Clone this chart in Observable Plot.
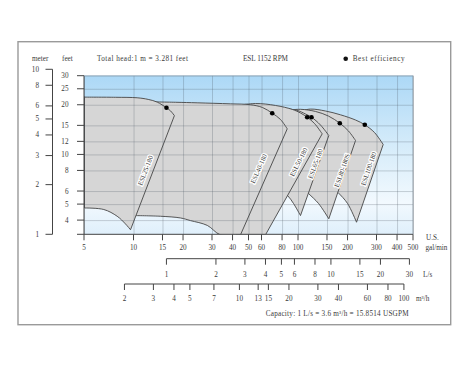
<!DOCTYPE html>
<html><head><meta charset="utf-8">
<script src="https://cdn.jsdelivr.net/npm/d3@7"></script>
<script src="https://cdn.jsdelivr.net/npm/@observablehq/plot@0.6"></script>
<style>html,body{margin:0;padding:0;background:#fff}svg{display:block}</style>
</head><body><div id="chart"></div>
<script>
// ---------- data ----------
const pumpNames = ["ESL100-180","ESL80-180S","ESL65-180","ESL50-180","ESL40-180","ESL25-180"];
// coverage outline of each pump, [US gpm, feet]
const esl100 = [[100.0,18.34],[118.3,18.96],[145.9,18.46],[180.0,17.5],[222.1,16.28],[252.9,15.23],[289.7,13.67],[327.1,11.57],[225.2,3.91],[198.6,5.08],[173.8,5.92],[156.4,6.53]];
const esl80  = [[83.4,18.6],[102.8,18.9],[126.9,18.34],[152.1,17.2],[178.2,15.57],[201.3,13.96],[222.1,12.23],[152.8,4.10],[132.3,5.08],[115.0,5.84],[102.8,6.53]];
const esl65  = [[63.0,19.5],[97.2,18.65],[110.3,17.7],[119.9,16.93],[136.0,15.18],[152.8,13.11],[102.8,4.29],[93.2,5.08],[85.7,5.68],[77.7,6.09]];
const esl50  = [[38.6,19.66],[54.8,20.49],[72.5,19.94],[91.9,18.86],[102.8,17.95],[112.9,16.93],[125.1,15.5],[139.3,13.42],[63.0,3.281],[42.0,3.281]];
const esl40  = [[11.74,21.0],[17.9,20.85],[24.2,20.69],[38.6,20.4],[51.0,20.15],[60.4,19.38],[69.2,17.9],[77.7,16.4],[85.4,14.39],[44.4,3.281],[33.5,3.281],[27.9,3.74],[22.05,4.0],[19.17,4.15],[14.5,4.25],[10.1,4.29]];
const esl25  = [[5,22.4],[7.7,22.35],[10.45,22.2],[12.2,21.7],[13.83,20.9],[15.75,19.3],[16.66,18.5],[17.6,17.3],[9.52,3.52],[8.87,3.82],[7.9,4.25],[6.55,4.67],[5,4.77]];
const outlines = [esl100, esl80, esl65, esl50, esl40, esl25];

const bestQ = [252.9,178.2,119.9,112.9,69.2,15.75];
const bestH = [15.23,15.57,16.93,16.93,17.9,19.3];
const labelQ = [267.5,184.4,126.9,100.4,57.4,11.74];
const labelH = [8.24,8.05,8.84,9.04,8.24,8.05];

const gpmTicks = [5,10,15,20,30,40,50,60,80,100,150,200,300,400,500];
const ftTicks = [30,25,20,15,12,10,8,6,5,4];
const meterTicks = [10,8,6,5,4,3,2,1];
const lpsTicks = [1,2,3,4,5,6,8,10,15,20,30];
const m3hTicks = [2,3,4,5,7,10,13,15,20,30,40,60,80,100];
const FT_PER_M = 3.281, GPM_PER_LPS = 15.8514, GPM_PER_M3H = 15.8514/3.6;
const xDomain = [5,500], yDomain = [1*FT_PER_M, 30];

// ---------- styles ----------
const FONT = "'Liberation Serif','Times New Roman',serif";
const FS = 7.2;
const labelAngle = [-71,-71,-70,-63,-66,-69];
const TXT = "#3a3a3a";

const rows = outlines.flatMap((pts,i)=>pts.map(([q,h])=>({pump:pumpNames[i], q, h})));
const best = bestQ.map((q,i)=>({q, h:bestH[i]}));
const labels = pumpNames.map((n,i)=>({n, q:labelQ[i], h:labelH[i], a:labelAngle[i]}));

// closed curve: smooth (Catmull-Rom) between sharp corners
function smoothCornered(context){
  let pts = [];
  const proxy = {
    moveTo(){}, closePath(){},
    lineTo(x,y){ context.lineTo(x,y); },
    bezierCurveTo(a,b,c,d,e,f){ context.bezierCurveTo(a,b,c,d,e,f); }
  };
  function run(seg){
    if (seg.length < 3) { context.lineTo(seg[seg.length-1][0], seg[seg.length-1][1]); return; }
    const cr = d3.curveCatmullRom.alpha(0.5)(proxy);
    cr.lineStart(); seg.forEach(p=>cr.point(p[0],p[1])); cr.lineEnd();
  }
  return {
    areaStart(){}, areaEnd(){},
    lineStart(){ pts = []; },
    point(x,y){ pts.push([+x,+y]); },
    lineEnd(){
      const n = pts.length; if (!n) return;
      const corner = pts.map((p,i)=>{
        const a = pts[(i-1+n)%n], c = pts[(i+1)%n];
        const v1=[p[0]-a[0],p[1]-a[1]], v2=[c[0]-p[0],c[1]-p[1]];
        return Math.abs(Math.atan2(v1[0]*v2[1]-v1[1]*v2[0], v1[0]*v2[0]+v1[1]*v2[1])) > 0.75;
      });
      let s = corner.indexOf(true); if (s < 0) s = 0;
      const seq = [...pts.slice(s), ...pts.slice(0,s), pts[s]];
      const cs = [...corner.slice(s), ...corner.slice(0,s), true];
      context.moveTo(seq[0][0], seq[0][1]);
      let seg = [seq[0]];
      for (let i=1;i<seq.length;i++){ seg.push(seq[i]); if (cs[i]) { run(seg); seg = [seq[i]]; } }
      context.closePath();
    }
  };
}

function background(index, scales, values, dims){
  const {width,height,marginLeft:ml,marginRight:mr,marginTop:mt,marginBottom:mb} = dims;
  const g = d3.create("svg:g");
  const grad = g.append("defs").append("linearGradient").attr("id","bgGrad").attr("x1",0).attr("y1",0).attr("x2",0).attr("y2",1);
  [[0,"#acd8f6"],[0.45,"#d6ecfa"],[0.8,"#f2f9fe"],[1,"#dfeffb"]].forEach(([o,c])=>grad.append("stop").attr("offset",o).attr("stop-color",c));
  g.append("rect").attr("x",ml-66).attr("y",mt-34).attr("width",width-ml-mr+103.7).attr("height",height-mt-mb+124.4)
    .attr("fill","#fff").attr("stroke","#9a9a9a").attr("stroke-width",1.4);
  g.append("rect").attr("x",ml).attr("y",mt).attr("width",width-ml-mr).attr("height",height-mt-mb).attr("fill","url(#bgGrad)");
  return g.node();
}

function axes(index, scales, values, dims){
  const x = scales.x, y = scales.y;
  const {width,height,marginLeft:ml,marginRight:mr,marginTop:mt,marginBottom:mb} = dims;
  const r = width-mr, b = height-mb;
  const g = d3.create("svg:g").attr("font-family",FONT).attr("font-size",FS).attr("fill",TXT);
  const ln = (x1,y1,x2,y2,s="#444",w=1)=>g.append("line").attr("x1",x1).attr("y1",y1).attr("x2",x2).attr("y2",y2).attr("stroke",s).attr("stroke-width",w);
  const tx = (px,py,s,anchor="middle")=>g.append("text").attr("x",px).attr("y",py).attr("dy","0.35em").attr("text-anchor",anchor).text(s);
  // plot edges
  ln(ml,mt,ml,b,"#444");
  ln(ml-7,b,r,b,"#444");
  ln(r,mt,r,b,"#7f8c96",0.8);
  ln(ml,mt,r,mt,"#9fb3c2",0.8);
  // gpm axis
  for(const v of gpmTicks){ ln(x(v),b,x(v),b+6); tx(x(v),b+12.7,v); }
  tx(r+13,b+3,"U.S.","start"); tx(r+12.5,b+13,"gal/min","start");
  // L/s axis
  const yL = b+24.4;
  ln(x(lpsTicks[0]*GPM_PER_LPS),yL,x(lpsTicks[lpsTicks.length-1]*GPM_PER_LPS),yL);
  for(const v of lpsTicks){ const p=x(v*GPM_PER_LPS); ln(p,yL,p,yL+6); tx(p,yL+15.6,v); }
  tx(r+10,yL+15.6,"L/s","start");
  // m3/h axis
  const yM = b+49.7;
  ln(x(m3hTicks[0]*GPM_PER_M3H),yM,x(m3hTicks[m3hTicks.length-1]*GPM_PER_M3H),yM);
  for(const v of m3hTicks){ const p=x(v*GPM_PER_M3H); ln(p,yM,p,yM+6); tx(p,yM+14.5,v); }
  tx(r+3,yM+14.5,"m³/h","start");
  tx(ml+181.7,b+79,"Capacity: 1 L/s = 3.6 m³/h = 15.8514 USGPM","start").attr("textLength",143);
  // feet axis
  for(const v of ftTicks){ ln(ml-7,y(v),ml,y(v)); tx(ml-15.5,y(v),v,"end"); }
  // meter axis
  const xm = ml-31.5;
  ln(xm,y(meterTicks[0]*FT_PER_M),xm,y(meterTicks[meterTicks.length-1]*FT_PER_M));
  for(const v of meterTicks){ const p=y(v*FT_PER_M); ln(xm-7,p,xm,p); tx(xm-13.5,p,v,"end"); }
  // header
  const hy = mt-17;
  tx(ml-52,hy,"meter","start");
  tx(ml-22,hy,"feet","start");
  tx(ml+13,hy,"Total head:1 m = 3.281 feet","start").attr("textLength",91);
  tx(ml+159,hy,"ESL 1152 RPM","start").attr("textLength",45);
  g.append("circle").attr("cx",ml+261.7).attr("cy",hy).attr("r",2.3).attr("fill","#111");
  tx(ml+268.7,hy,"Best efficiency","start").attr("textLength",52);
  return g.node();
}

const chart = Plot.plot({
  width: 474, height: 366,
  marginLeft: 84, marginRight: 61, marginTop: 75.7, marginBottom: 131.7,
  x: {type:"log", domain:xDomain, axis:null},
  y: {type:"log", domain:yDomain, axis:null},
  style: {fontFamily: FONT, fontSize:FS+"px", background:"#fff", overflow:"visible"},
  marks: [
    background,
    Plot.line(rows, {x:"q", y:"h", z:"pump", curve:smoothCornered, fill:"#d6d6d6", stroke:"#454545", strokeWidth:0.9, clip:true}),
    Plot.ruleX(gpmTicks, {stroke:"#4a5560", strokeOpacity:0.33, strokeWidth:0.8}),
    Plot.ruleY(ftTicks, {stroke:"#4a5560", strokeOpacity:0.33, strokeWidth:0.8}),
    Plot.dot(best, {x:"q", y:"h", r:2.3, fill:"#000"}),
    Plot.text(labels, {x:"q", y:"h", text:"n", rotate:"a", fontSize:6.8, fill:TXT, stroke:"#fff", strokeWidth:2.5}),
    axes
  ]
});
document.getElementById("chart").appendChild(chart);
</script>
</body></html>
